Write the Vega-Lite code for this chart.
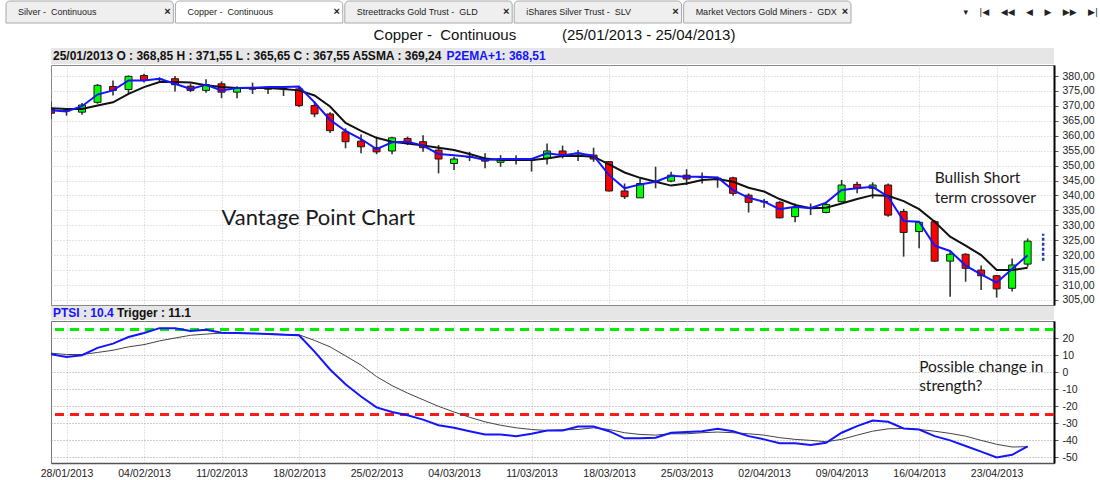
{
  "$schema": "https://vega.github.io/schema/vega-lite/v6.json",
  "background": "white",
  "padding": {"left": 5, "top": 0, "right": 0, "bottom": 0},
  "config": {"view": {"stroke": null}, "font": "Liberation Sans", "axis": {"labelOverlap": false}, "axisY": {"labelOverlap": false}, "axisRight": {"labelOverlap": false}},
  "spacing": 4,
  "datasets": {
    "ohlc": [
      {"d":"2013-01-25","o":368.85,"h":371.55,"l":365.65,"c":367.55,"sma":369.24,"ema":368.51,"ptsi":10.4,"trig":11.1},
      {"d":"2013-01-28","o":368.5,"h":369.3,"l":366.7,"c":368.3,"sma":369.0,"ema":368.1,"ptsi":8.9,"trig":10.3},
      {"d":"2013-01-29","o":367.9,"h":371.0,"l":367.0,"c":370.3,"sma":369.0,"ema":369.9,"ptsi":9.9,"trig":10.3},
      {"d":"2013-01-30","o":371.2,"h":377.3,"l":370.7,"c":376.9,"sma":370.1,"ema":373.8,"ptsi":14.2,"trig":11.5},
      {"d":"2013-01-31","o":376.5,"h":378.5,"l":373.5,"c":375.2,"sma":371.2,"ema":375.2,"ptsi":16.7,"trig":12.8},
      {"d":"2013-02-01","o":375.5,"h":380.2,"l":374.0,"c":379.9,"sma":374.0,"ema":378.5,"ptsi":20.6,"trig":14.8},
      {"d":"2013-02-04","o":380.2,"h":380.8,"l":377.8,"c":378.5,"sma":376.3,"ema":378.5,"ptsi":22.9,"trig":16.1},
      {"d":"2013-02-05","o":379.0,"h":379.6,"l":378.2,"c":378.8,"sma":378.0,"ema":379.1,"ptsi":25.8,"trig":18.3},
      {"d":"2013-02-06","o":379.1,"h":380.0,"l":374.8,"c":377.1,"sma":378.0,"ema":377.4,"ptsi":25.8,"trig":20.0},
      {"d":"2013-02-07","o":376.6,"h":377.4,"l":374.6,"c":375.2,"sma":377.8,"ema":375.7,"ptsi":24.1,"trig":21.6},
      {"d":"2013-02-08","o":375.2,"h":378.9,"l":374.4,"c":377.1,"sma":376.9,"ema":377.1,"ptsi":24.9,"trig":22.3},
      {"d":"2013-02-11","o":377.4,"h":378.2,"l":372.6,"c":374.6,"sma":376.3,"ema":375.2,"ptsi":23.1,"trig":22.9},
      {"d":"2013-02-12","o":374.6,"h":376.6,"l":372.6,"c":376.0,"sma":376.0,"ema":376.0,"ptsi":22.9,"trig":22.9},
      {"d":"2013-02-13","o":376.0,"h":377.8,"l":374.0,"c":375.6,"sma":376.0,"ema":376.1,"ptsi":22.7,"trig":22.7},
      {"d":"2013-02-14","o":375.8,"h":376.3,"l":374.0,"c":375.6,"sma":376.0,"ema":376.3,"ptsi":22.3,"trig":22.5},
      {"d":"2013-02-15","o":375.9,"h":376.6,"l":373.3,"c":375.7,"sma":375.7,"ema":376.3,"ptsi":21.9,"trig":22.1},
      {"d":"2013-02-18","o":375.7,"h":376.3,"l":369.6,"c":370.1,"sma":375.2,"ema":376.5,"ptsi":21.6,"trig":21.9},
      {"d":"2013-02-19","o":370.1,"h":371.5,"l":366.2,"c":367.3,"sma":373.5,"ema":371.2,"ptsi":12.0,"trig":18.6},
      {"d":"2013-02-20","o":367.3,"h":367.9,"l":360.9,"c":361.7,"sma":369.8,"ema":365.3,"ptsi":1.5,"trig":14.8},
      {"d":"2013-02-21","o":361.3,"h":362.5,"l":355.8,"c":358.0,"sma":364.3,"ema":361.6,"ptsi":-7.2,"trig":9.5},
      {"d":"2013-02-22","o":358.2,"h":360.4,"l":354.1,"c":356.3,"sma":361.6,"ema":358.9,"ptsi":-14.4,"trig":4.1},
      {"d":"2013-02-25","o":356.0,"h":359.7,"l":353.8,"c":354.6,"sma":359.3,"ema":355.5,"ptsi":-20.8,"trig":-2.7},
      {"d":"2013-02-26","o":354.9,"h":359.7,"l":353.8,"c":359.3,"sma":358.0,"ema":357.8,"ptsi":-23.5,"trig":-8.0},
      {"d":"2013-02-27","o":359.1,"h":359.7,"l":356.9,"c":357.4,"sma":357.4,"ema":358.0,"ptsi":-25.4,"trig":-12.4},
      {"d":"2013-02-28","o":358.0,"h":360.2,"l":354.6,"c":356.0,"sma":356.7,"ema":356.7,"ptsi":-28.0,"trig":-16.3},
      {"d":"2013-03-01","o":355.2,"h":356.9,"l":347.4,"c":352.2,"sma":356.0,"ema":353.9,"ptsi":-31.3,"trig":-20.2},
      {"d":"2013-03-04","o":350.7,"h":353.0,"l":348.5,"c":352.2,"sma":355.2,"ema":353.5,"ptsi":-32.8,"trig":-23.5},
      {"d":"2013-03-05","o":353.0,"h":354.6,"l":351.5,"c":352.8,"sma":353.9,"ema":353.0,"ptsi":-34.8,"trig":-26.6},
      {"d":"2013-03-06","o":352.4,"h":354.1,"l":349.1,"c":351.5,"sma":352.4,"ema":351.9,"ptsi":-36.7,"trig":-29.3},
      {"d":"2013-03-07","o":351.1,"h":353.5,"l":349.6,"c":352.2,"sma":351.9,"ema":352.2,"ptsi":-36.7,"trig":-31.3},
      {"d":"2013-03-08","o":352.0,"h":353.5,"l":350.4,"c":351.8,"sma":351.9,"ema":352.2,"ptsi":-37.7,"trig":-32.8},
      {"d":"2013-03-11","o":352.0,"h":352.6,"l":348.0,"c":351.8,"sma":351.9,"ema":352.2,"ptsi":-36.3,"trig":-33.8},
      {"d":"2013-03-12","o":352.4,"h":357.4,"l":350.4,"c":354.9,"sma":352.4,"ema":354.1,"ptsi":-34.4,"trig":-34.4},
      {"d":"2013-03-13","o":354.9,"h":356.7,"l":352.4,"c":353.5,"sma":353.2,"ema":353.5,"ptsi":-34.4,"trig":-34.0},
      {"d":"2013-03-14","o":354.2,"h":355.2,"l":351.5,"c":354.0,"sma":353.3,"ema":354.1,"ptsi":-32.0,"trig":-33.8},
      {"d":"2013-03-15","o":353.5,"h":356.0,"l":351.3,"c":352.2,"sma":353.0,"ema":353.3,"ptsi":-32.0,"trig":-32.8},
      {"d":"2013-03-18","o":351.3,"h":351.5,"l":341.3,"c":341.5,"sma":350.4,"ema":346.8,"ptsi":-34.8,"trig":-33.8},
      {"d":"2013-03-19","o":341.5,"h":344.0,"l":338.8,"c":339.6,"sma":347.7,"ema":342.4,"ptsi":-39.0,"trig":-35.7},
      {"d":"2013-03-20","o":339.2,"h":345.7,"l":339.2,"c":344.0,"sma":345.9,"ema":343.7,"ptsi":-39.0,"trig":-36.7},
      {"d":"2013-03-21","o":344.8,"h":349.6,"l":342.4,"c":344.4,"sma":344.6,"ema":344.6,"ptsi":-38.6,"trig":-37.1},
      {"d":"2013-03-22","o":344.8,"h":347.9,"l":344.4,"c":346.8,"sma":343.3,"ema":346.6,"ptsi":-35.7,"trig":-36.3},
      {"d":"2013-03-25","o":346.8,"h":348.8,"l":343.5,"c":345.5,"sma":344.0,"ema":346.3,"ptsi":-35.3,"trig":-36.3},
      {"d":"2013-03-26","o":346.2,"h":347.7,"l":344.0,"c":346.0,"sma":345.2,"ema":346.3,"ptsi":-34.8,"trig":-35.7},
      {"d":"2013-03-27","o":345.8,"h":346.3,"l":342.6,"c":345.3,"sma":345.5,"ema":346.0,"ptsi":-33.4,"trig":-35.3},
      {"d":"2013-03-28","o":345.9,"h":346.3,"l":339.9,"c":340.7,"sma":344.6,"ema":341.8,"ptsi":-34.8,"trig":-35.7},
      {"d":"2013-04-01","o":340.1,"h":340.7,"l":334.3,"c":337.7,"sma":342.6,"ema":339.2,"ptsi":-37.7,"trig":-36.3},
      {"d":"2013-04-02","o":338.0,"h":338.8,"l":335.9,"c":337.8,"sma":341.3,"ema":337.9,"ptsi":-39.6,"trig":-37.1},
      {"d":"2013-04-03","o":337.7,"h":338.1,"l":332.3,"c":332.5,"sma":338.8,"ema":335.4,"ptsi":-41.9,"trig":-38.6},
      {"d":"2013-04-04","o":332.9,"h":337.3,"l":331.0,"c":335.9,"sma":336.8,"ema":336.2,"ptsi":-41.9,"trig":-39.6},
      {"d":"2013-04-05","o":336.0,"h":337.3,"l":333.4,"c":335.8,"sma":335.7,"ema":335.7,"ptsi":-42.9,"trig":-40.2},
      {"d":"2013-04-08","o":334.3,"h":337.9,"l":334.0,"c":337.0,"sma":335.9,"ema":337.6,"ptsi":-41.6,"trig":-41.0},
      {"d":"2013-04-09","o":337.9,"h":345.2,"l":337.7,"c":343.5,"sma":337.3,"ema":341.8,"ptsi":-35.7,"trig":-39.6},
      {"d":"2013-04-10","o":343.7,"h":344.6,"l":340.7,"c":342.4,"sma":338.8,"ema":342.4,"ptsi":-31.8,"trig":-37.1},
      {"d":"2013-04-11","o":342.4,"h":344.4,"l":339.0,"c":343.5,"sma":340.1,"ema":342.9,"ptsi":-28.5,"trig":-34.8},
      {"d":"2013-04-12","o":343.5,"h":344.0,"l":332.9,"c":333.4,"sma":339.9,"ema":339.6,"ptsi":-29.3,"trig":-33.4},
      {"d":"2013-04-15","o":334.6,"h":335.5,"l":319.5,"c":327.6,"sma":338.1,"ema":331.4,"ptsi":-33.2,"trig":-33.2},
      {"d":"2013-04-16","o":327.9,"h":331.2,"l":322.3,"c":331.0,"sma":335.4,"ema":331.2,"ptsi":-33.8,"trig":-33.8},
      {"d":"2013-04-17","o":331.2,"h":331.8,"l":317.8,"c":318.0,"sma":331.2,"ema":323.2,"ptsi":-37.7,"trig":-34.8},
      {"d":"2013-04-18","o":318.0,"h":321.2,"l":306.1,"c":320.3,"sma":326.2,"ema":321.4,"ptsi":-40.2,"trig":-36.1},
      {"d":"2013-04-19","o":320.3,"h":320.6,"l":311.1,"c":315.6,"sma":323.2,"ema":316.5,"ptsi":-43.5,"trig":-37.7},
      {"d":"2013-04-22","o":315.0,"h":316.5,"l":308.3,"c":313.1,"sma":320.0,"ema":313.6,"ptsi":-46.8,"trig":-40.2},
      {"d":"2013-04-23","o":313.1,"h":313.4,"l":305.8,"c":308.7,"sma":315.0,"ema":310.8,"ptsi":-50.3,"trig":-42.5},
      {"d":"2013-04-24","o":308.9,"h":318.9,"l":307.8,"c":316.7,"sma":315.0,"ema":315.4,"ptsi":-48.7,"trig":-44.1},
      {"d":"2013-04-25","o":317.0,"h":325.6,"l":316.1,"c":324.7,"sma":315.8,"ema":320.0,"ptsi":-43.7,"trig":-43.9}
    ],
    "proj": [{"d":"2013-04-26","lo":318.1,"hi":327.2}]
  },
  "vconcat": [
    {
      "width": 1092,
      "height": 22,
      "title": {"text": "▾\u00a0\u00a0\u00a0\u00a0|◀\u00a0\u00a0\u00a0\u00a0◀◀\u00a0\u00a0\u00a0\u00a0◀\u00a0\u00a0\u00a0\u00a0▶\u00a0\u00a0\u00a0\u00a0▶▶\u00a0\u00a0\u00a0\u00a0▶|", "orient": "bottom", "anchor": "end", "offset": -16, "baseline": "top", "fontSize": 9, "fontWeight": "normal", "font": "DejaVu Sans", "color": "#222"},
      "data": {"values": [
        {"tab": "Silver -\u00a0 Continuous"},
        {"tab": "Copper -\u00a0 Continuous"},
        {"tab": "Streettracks Gold Trust -\u00a0 GLD"},
        {"tab": "iShares Silver Trust -\u00a0 SLV"},
        {"tab": "Market Vectors Gold Miners -\u00a0 GDX"}
      ]},
      "encoding": {"x": {"field": "tab", "type": "nominal", "sort": null, "axis": null, "scale": {"range": [0, 845], "paddingInner": 0.012, "paddingOuter": 0}}},
      "layer": [
        {"mark": {"type": "bar", "stroke": "#a8a8a8", "strokeWidth": 1, "cornerRadiusTopLeft": 4, "cornerRadiusTopRight": 4},
         "encoding": {"fill": {"condition": {"test": "datum.tab === 'Copper -\u00a0 Continuous'", "value": "#ffffff"}, "value": "#efefef"}}},
        {"mark": {"type": "text", "align": "left", "dx": 12, "fontSize": 9, "color": "#222"},
         "encoding": {"x": {"field": "tab", "type": "nominal", "sort": null, "bandPosition": 0}, "text": {"field": "tab"},
           "fontWeight": {"condition": {"test": "datum.tab === 'Copper -\u00a0 Continuous'", "value": "bold"}, "value": "normal"}}},
        {"mark": {"type": "text", "align": "center", "dx": -6, "fontSize": 11, "fontWeight": "bold", "text": "×", "color": "#222"},
         "encoding": {"x": {"field": "tab", "type": "nominal", "sort": null, "bandPosition": 1}}}
      ]
    },
    {
      "spacing": 0,
      "bounds": "flush",
      "hconcat": [
        {"width": 45, "height": 20, "data": {"values": [{}]}, "mark": {"type": "point", "opacity": 0}, "encoding": {}},
        {
          "spacing": 0,
          "resolve": {"scale": {"x": "shared"}},
          "vconcat": [
            {
              "width": 1003,
              "height": 16,
              "view": {"fill": "#e6e6e6", "stroke": null},
              "title": {"text": "Copper -\u00a0 Continuous\u00a0\u00a0\u00a0\u00a0\u00a0\u00a0\u00a0\u00a0\u00a0\u00a0\u00a0(25/01/2013 - 25/04/2013)", "fontSize": 15, "fontWeight": "normal", "font": "Liberation Sans", "color": "#111", "anchor": "middle", "offset": 5, "dx": 2},
              "layer": [
                {"data": {"values": [{"d": "2013-01-25", "label": "25/01/2013 O : 368,85 H : 371,55 L : 365,65 C : 367,55 A5SMA : 369,24"}]},
                 "mark": {"type": "text", "align": "left", "dx": 2, "fontSize": 12, "fontWeight": "bold", "color": "#111"},
                 "encoding": {"x": {"field": "d", "type": "ordinal", "scale": {"type": "point", "padding": 0.35, "align": 0}, "axis": null}, "text": {"field": "label"}}},
                {"data": {"values": [{"d": "2013-03-01", "label": "P2EMA+1: 368,51"}]},
                 "mark": {"type": "text", "align": "left", "dx": 8, "fontSize": 12, "fontWeight": "bold", "color": "#1414ff"},
                 "encoding": {"x": {"field": "d", "type": "ordinal", "scale": {"type": "point", "padding": 0.35, "align": 0}, "axis": null}, "text": {"field": "label"}}}
              ]
            },
            {
              "width": 1003,
              "height": 240,
              "view": {"stroke": "#888"},
              "data": {"name": "ohlc"},
              "encoding": {
                "x": {"field": "d", "type": "ordinal", "scale": {"type": "point", "padding": 0.35, "align": 0},
                  "axis": {"values": ["2013-01-28","2013-02-04","2013-02-11","2013-02-18","2013-02-25","2013-03-04","2013-03-11","2013-03-18","2013-03-25","2013-04-02","2013-04-09","2013-04-16","2013-04-23"],
                    "grid": true, "gridColor": "#c8c8c8", "gridDash": [1, 2], "labels": false, "ticks": false, "domain": false, "title": null}},
                "y": {"field": "l", "type": "quantitative", "title": null, "scale": {"domain": [303.3, 383.7], "nice": false, "zero": false},
                  "axis": {"orient": "right", "values": [305,310,315,320,325,330,335,340,345,350,355,360,365,370,375,380],
                    "labelExpr": "replace(format(datum.value, '.2f'), '.', ',')", "labelFontSize": 10.5, "labelColor": "#222", "labelFont": "Liberation Sans", "labelOverlap": false,
                    "grid": true, "gridColor": "#c8c8c8", "gridDash": [1, 2], "domainColor": "#000", "domainWidth": 2, "tickColor": "#555", "tickSize": 4, "labelPadding": 4, "title": null}}
              },
              "layer": [
                {"mark": {"type": "rule", "color": "#333", "strokeWidth": 1.6, "clip": true},
                 "encoding": {"y2": {"field": "h"}}},
                {"mark": {"type": "bar", "width": 7, "stroke": "#1a1a1a", "strokeWidth": 1, "clip": true},
                 "encoding": {
                   "y": {"field": "o", "type": "quantitative", "title": null, "scale": {"domain": [303.3, 383.7], "nice": false, "zero": false}},
                   "y2": {"field": "c"},
                   "fill": {"condition": {"test": "datum.c >= datum.o", "value": "#00ff00"}, "value": "#ff0000"}}},
                {"mark": {"type": "line", "color": "#111", "strokeWidth": 2, "clip": true},
                 "encoding": {"y": {"field": "sma", "type": "quantitative", "title": null, "scale": {"domain": [303.3, 383.7], "nice": false, "zero": false}}}},
                {"mark": {"type": "line", "color": "#1414ff", "strokeWidth": 2, "clip": true},
                 "encoding": {"y": {"field": "ema", "type": "quantitative", "title": null, "scale": {"domain": [303.3, 383.7], "nice": false, "zero": false}}}},
                {"data": {"name": "proj"},
                 "mark": {"type": "rule", "color": "#1c3fa8", "strokeWidth": 2.5, "strokeDash": [3, 2]},
                 "encoding": {"y": {"field": "lo", "type": "quantitative", "title": null, "scale": {"domain": [303.3, 383.7], "nice": false, "zero": false}}, "y2": {"field": "hi"}}},
                {"data": {"values": [
                   {"d": "2013-02-11", "p": 332.5, "t": "Vantage Point Chart", "s": "big"},
                   {"d": "2013-04-17", "p": 345.9, "t": "Bullish Short", "s": "small"},
                   {"d": "2013-04-17", "p": 339.2, "t": "term crossover", "s": "small"}
                 ]},
                 "mark": {"type": "text", "align": "left", "baseline": "middle", "font": "Lato", "color": "#1a1a1a"},
                 "encoding": {
                   "y": {"field": "p", "type": "quantitative", "title": null, "scale": {"domain": [303.3, 383.7], "nice": false, "zero": false}},
                   "text": {"field": "t"},
                   "size": {"condition": {"test": "datum.s === 'big'", "value": 22}, "value": 15.5}}}
              ]
            },
            {
              "width": 1003,
              "height": 14,
              "view": {"fill": "#e6e6e6", "stroke": null},
              "layer": [
                {"data": {"values": [{"d": "2013-01-25", "label": "PTSI : 10.4"}]},
                 "mark": {"type": "text", "align": "left", "dx": 2, "fontSize": 12, "fontWeight": "bold", "color": "#1414ff"},
                 "encoding": {"x": {"field": "d", "type": "ordinal", "scale": {"type": "point", "padding": 0.35, "align": 0}, "axis": null}, "text": {"field": "label"}}},
                {"data": {"values": [{"d": "2013-01-31", "label": "Trigger : 11.1"}]},
                 "mark": {"type": "text", "align": "left", "dx": 4, "fontSize": 12, "fontWeight": "bold", "color": "#111"},
                 "encoding": {"x": {"field": "d", "type": "ordinal", "scale": {"type": "point", "padding": 0.35, "align": 0}, "axis": null}, "text": {"field": "label"}}}
              ]
            },
            {
              "width": 1003,
              "height": 142,
              "view": {"stroke": "#777"},
              "data": {"name": "ohlc"},
              "encoding": {
                "y": {"field": "trig", "type": "quantitative", "title": null, "scale": {"domain": [-53.5, 30], "nice": false, "zero": false},
                  "axis": {"orient": "right", "values": [20, 10, 0, -10, -20, -30, -40, -50],
                    "labelExpr": "datum.value < 0 ? '-' + format(-datum.value, 'd') : format(datum.value, 'd')",
                    "labelFontSize": 10.5, "labelColor": "#222", "labelFont": "Liberation Sans", "labelOverlap": false,
                    "grid": true, "gridColor": "#9a9a9a", "gridDash": [1, 2], "domainColor": "#000", "domainWidth": 2, "tickColor": "#555", "tickSize": 4, "labelPadding": 4, "title": null}}
              },
              "layer": [
                {"mark": {"type": "rule", "color": "#00ee00", "strokeWidth": 2, "strokeDash": [9, 6]},
                 "encoding": {"y": {"datum": 25, "type": "quantitative", "title": null, "scale": {"domain": [-53.5, 30], "nice": false, "zero": false}}}},
                {"mark": {"type": "rule", "color": "#ff1a1a", "strokeWidth": 2, "strokeDash": [9, 6]},
                 "encoding": {"y": {"datum": -25, "type": "quantitative", "title": null, "scale": {"domain": [-53.5, 30], "nice": false, "zero": false}}}},
                {"mark": {"type": "line", "color": "#444", "strokeWidth": 1, "clip": true},
                 "encoding": {
                   "x": {"field": "d", "type": "ordinal", "scale": {"type": "point", "padding": 0.35, "align": 0},
                     "axis": {"values": ["2013-01-28","2013-02-04","2013-02-11","2013-02-18","2013-02-25","2013-03-04","2013-03-11","2013-03-18","2013-03-25","2013-04-02","2013-04-09","2013-04-16","2013-04-23"],
                       "labelExpr": "slice(datum.value, 8, 10) + '/' + slice(datum.value, 5, 7) + '/' + slice(datum.value, 0, 4)",
                       "labelAngle": 0, "labelFontSize": 10.5, "labelColor": "#222", "labelFont": "Liberation Sans", "labelPadding": 5,
                       "grid": true, "gridColor": "#c8c8c8", "gridDash": [1, 2], "ticks": false, "domainColor": "#555", "domainWidth": 1.5, "title": null}}}},
                {"mark": {"type": "line", "color": "#1414ff", "strokeWidth": 2, "clip": true},
                 "encoding": {
                   "x": {"field": "d", "type": "ordinal", "title": null, "scale": {"type": "point", "padding": 0.35, "align": 0}},
                   "y": {"field": "ptsi", "type": "quantitative", "title": null, "scale": {"domain": [-53.5, 30], "nice": false, "zero": false}}}},
                {"data": {"values": [
                   {"d": "2013-04-16", "v": 2.9, "t": "Possible change in"},
                   {"d": "2013-04-16", "v": -8.2, "t": "strength?"}
                 ]},
                 "mark": {"type": "text", "align": "left", "baseline": "middle", "font": "Lato", "fontSize": 15.5, "color": "#1a1a1a"},
                 "encoding": {
                   "x": {"field": "d", "type": "ordinal", "title": null, "scale": {"type": "point", "padding": 0.35, "align": 0}},
                   "y": {"field": "v", "type": "quantitative", "title": null, "scale": {"domain": [-53.5, 30], "nice": false, "zero": false}},
                   "text": {"field": "t"}}}
              ]
            }
          ]
        }
      ]
    }
  ]
}
